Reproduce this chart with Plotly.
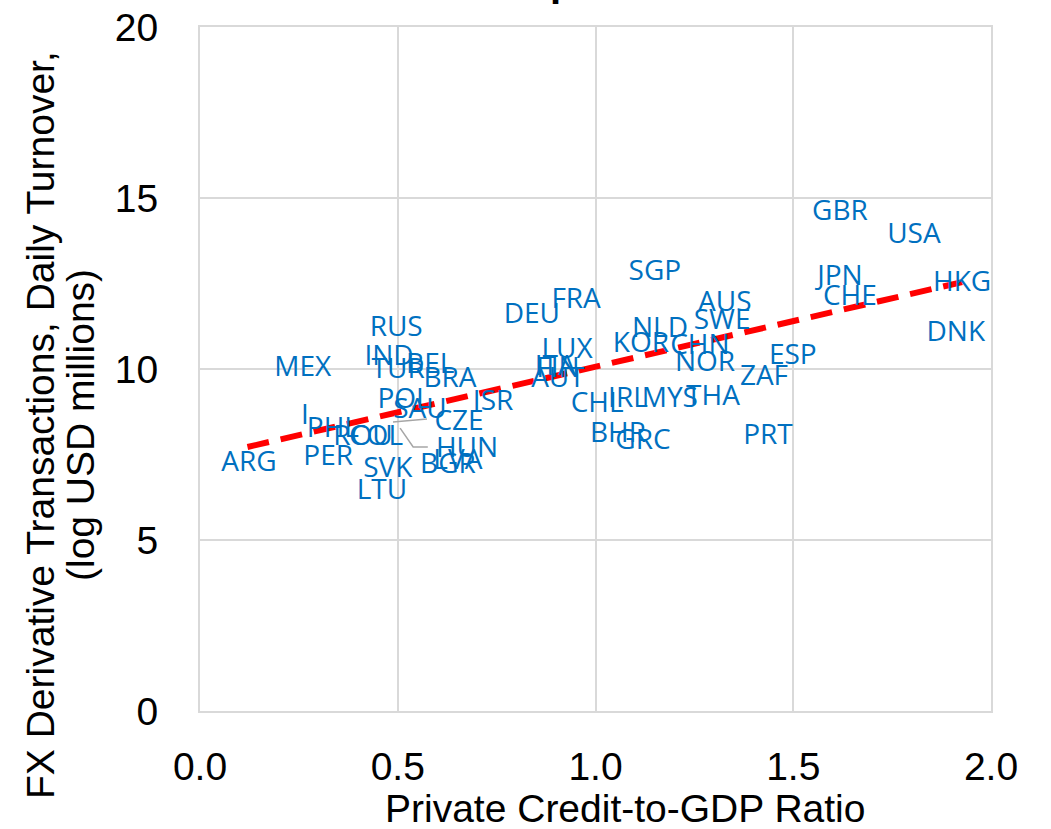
import plotly.graph_objects as go

# ---- data ----
countries = ["GBR", "USA", "JPN", "CHE", "HKG", "DNK", "ESP", "ZAF", "PRT",
             "SGP", "AUS", "SWE", "NLD", "KOR", "CHN", "NOR", "THA", "MYS",
             "IRL", "CHL", "BHR", "GRC", "FRA", "DEU", "LUX", "ITA", "FIN",
             "AUT", "ISR", "CZE", "HUN", "BGR", "LVA", "SAU", "POL", "RUS",
             "IND", "TUR", "BEL", "BRA", "MEX", "I", "PHL", "ROU", "COL",
             "PER", "ARG", "SVK", "LTU"]
credit_gdp = [1.618, 1.805, 1.618, 1.643, 1.927, 1.911, 1.499, 1.426, 1.436,
              1.150, 1.327, 1.320, 1.163, 1.115, 1.264, 1.277, 1.297, 1.188,
              1.082, 1.004, 1.057, 1.120, 0.951, 0.839, 0.928, 0.898, 0.905,
              0.905, 0.741, 0.655, 0.675, 0.627, 0.652, 0.556, 0.516, 0.496,
              0.478, 0.501, 0.582, 0.632, 0.260, 0.265, 0.336, 0.412, 0.445,
              0.324, 0.124, 0.475, 0.460]
fx_turnover = [14.55, 13.88, 12.65, 12.09, 12.50, 11.01, 10.34, 9.73, 8.00,
               12.80, 11.89, 11.36, 11.13, 10.69, 10.63, 10.16, 9.14, 9.08,
               9.08, 8.94, 8.06, 7.88, 11.98, 11.54, 10.54, 10.02, 9.96,
               9.67, 9.00, 8.41, 7.62, 7.15, 7.27, 8.76, 9.05, 11.16,
               10.31, 9.93, 10.08, 9.67, 9.99, 8.59, 8.23, 7.97, 7.97,
               7.39, 7.21, 7.04, 6.39]

# linear trend line end points
trend_x = [0.12, 1.927]
trend_y = [7.72, 12.54]

# leader lines (data units) for moved labels
leader_cze_x = [0.488, 0.574]
leader_cze_y = [8.45, 8.54]
leader_hun_x = [0.506, 0.539, 0.576]
leader_hun_y = [8.27, 7.72, 7.72]

x_ticks = [0.0, 0.5, 1.0, 1.5, 2.0]
y_ticks = [0, 5, 10, 15, 20]

LABEL_BLUE = "#0070C0"
GRID = "#D9D9D9"
AXFONT = "Liberation Sans, Arial, sans-serif"

fig = go.Figure()

for lx, ly in [(leader_cze_x, leader_cze_y), (leader_hun_x, leader_hun_y)]:
    fig.add_trace(go.Scatter(x=lx, y=ly, mode="lines",
                             line=dict(color="#A6A6A6", width=1.5),
                             hoverinfo="skip", showlegend=False))

fig.add_trace(go.Scatter(
    x=trend_x, y=trend_y, mode="lines",
    line=dict(color="#FF0000", width=6, dash="22px,12px"),
    showlegend=False, hoverinfo="skip"))

fig.add_trace(go.Scatter(
    x=credit_gdp, y=fx_turnover, mode="text", text=countries,
    textposition="middle center",
    textfont=dict(family="Open Sans, Noto Sans, sans-serif", size=28,
                  color=LABEL_BLUE),
    showlegend=False, cliponaxis=False))

fig.update_layout(
    width=1051, height=829,
    margin=dict(l=200, r=60, t=27, b=118, autoexpand=False),
    paper_bgcolor="white", plot_bgcolor="white",
    font=dict(family=AXFONT, color="#000000"),
)

fig.update_xaxes(
    range=[0, 2], tickvals=x_ticks, ticktext=[f"{v:.1f}" for v in x_ticks],
    showgrid=True, gridcolor=GRID, gridwidth=2,
    showline=True, linecolor=GRID, linewidth=2, mirror=True,
    zeroline=False, ticks="", tickfont=dict(size=39, family=AXFONT),
    ticklabelstandoff=20, automargin=False,
)
fig.update_yaxes(
    range=[0, 20], tickvals=y_ticks, ticktext=[str(v) for v in y_ticks],
    showgrid=True, gridcolor=GRID, gridwidth=2,
    showline=True, linecolor=GRID, linewidth=2, mirror=True,
    zeroline=False, ticks="", tickfont=dict(size=39, family=AXFONT),
    ticklabelstandoff=32, automargin=False,
)

# axis titles as annotations
fig.add_annotation(text="Private Credit-to-GDP Ratio", xref="paper", yref="paper",
                   x=(625 - 200) / 791, y=(711 - 808) / 684,
                   xanchor="center", yanchor="middle", showarrow=False,
                   font=dict(size=39, family=AXFONT, color="#000000"))
fig.add_annotation(text="FX Derivative Transactions, Daily Turnover,",
                   xref="paper", yref="paper",
                   x=(40 - 200) / 791, y=(711 - 425) / 684, textangle=-90,
                   xanchor="center", yanchor="middle", showarrow=False,
                   font=dict(size=39, family=AXFONT, color="#000000"))
fig.add_annotation(text="(log USD millions)",
                   xref="paper", yref="paper",
                   x=(80 - 200) / 791, y=(711 - 425) / 684, textangle=-90,
                   xanchor="center", yanchor="middle", showarrow=False,
                   font=dict(size=39, family=AXFONT, color="#000000"))
# the chart title lies above the visible page; only a descender shows
fig.add_annotation(text="<b>p</b>", xref="paper", yref="paper",
                   x=(562 - 200) / 791, y=(711 - 5) / 684,
                   xanchor="center", yanchor="bottom", showarrow=False,
                   borderpad=0,
                   font=dict(size=40, family=AXFONT, color="#000000"))

fig.write_html("out.html")
